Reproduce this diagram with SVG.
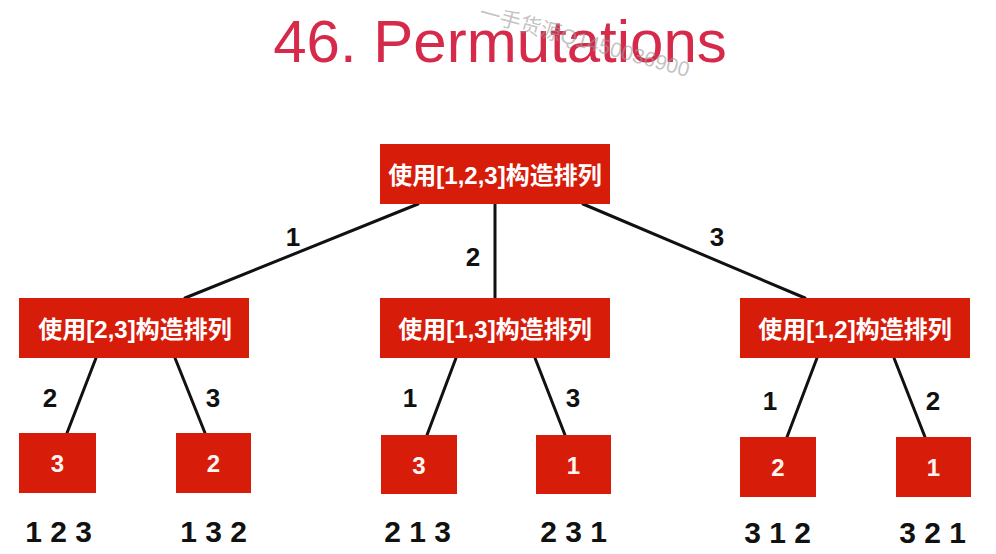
<svg xmlns="http://www.w3.org/2000/svg" width="996" height="554" viewBox="0 0 996 554">
<style>
.box{fill:#d81c0a;}
.bt{fill:#ffffff;font-family:"Liberation Sans","Noto Sans CJK SC",sans-serif;font-weight:bold;font-size:24px;text-anchor:middle;dominant-baseline:central;}
.lt{fill:#fff4f0;font-family:"Liberation Sans",sans-serif;font-weight:bold;font-size:24px;text-anchor:middle;dominant-baseline:central;}
.edge{stroke:#111;stroke-width:3;fill:none;stroke-linecap:round;}
.el{fill:#111;font-family:"Liberation Sans",sans-serif;font-weight:bold;font-size:26px;text-anchor:middle;dominant-baseline:central;}
.res{fill:#111;font-family:"Liberation Sans",sans-serif;font-weight:bold;font-size:30px;text-anchor:middle;}
</style>
<rect width="996" height="554" fill="#ffffff"/>
<text x="500" y="62" fill="#d52a4a" font-family="'Liberation Sans',sans-serif" font-size="60" text-anchor="middle">46. Permutations</text>
<text x="478" y="19" transform="rotate(15.5 478 19)" fill="#9a9a9a" fill-opacity="0.6" font-family="'Liberation Sans','Noto Sans CJK SC',sans-serif" font-size="21">一手货源Q1450036900</text>

<g id="connectors">
<line class="edge" x1="418" y1="204" x2="185" y2="298"/>
<line class="edge" x1="495" y1="204" x2="495" y2="298"/>
<line class="edge" x1="583" y1="204" x2="805" y2="298"/>
<line class="edge" x1="96" y1="358" x2="67" y2="433"/>
<line class="edge" x1="175" y1="358" x2="205" y2="433"/>
<line class="edge" x1="456" y1="358" x2="427" y2="435"/>
<line class="edge" x1="535" y1="358" x2="565" y2="435"/>
<line class="edge" x1="817" y1="358" x2="787" y2="437"/>
<line class="edge" x1="894" y1="358" x2="925" y2="437"/>
<text class="el" x="293" y="237">1</text>
<text class="el" x="473" y="257">2</text>
<text class="el" x="717" y="237">3</text>
<text class="el" x="50" y="398">2</text>
<text class="el" x="213" y="398">3</text>
<text class="el" x="410" y="398">1</text>
<text class="el" x="573" y="398">3</text>
<text class="el" x="770" y="401">1</text>
<text class="el" x="933" y="401">2</text>
</g>

<g id="root"><rect class="box" x="380" y="144" width="230" height="60"/><text class="bt" x="495" y="175">使用[1,2,3]构造排列</text></g>
<g id="n1"><rect class="box" x="19" y="298" width="230" height="60"/><text class="bt" x="135" y="329">使用[2,3]构造排列</text></g>
<g id="n2"><rect class="box" x="380" y="298" width="230" height="60"/><text class="bt" x="495" y="329">使用[1,3]构造排列</text></g>
<g id="n3"><rect class="box" x="740" y="298" width="230" height="60"/><text class="bt" x="855" y="329">使用[1,2]构造排列</text></g>

<g id="l1"><rect class="box" x="19" y="433" width="77" height="60"/><text class="lt" x="57.5" y="463">3</text></g>
<g id="l2"><rect class="box" x="176" y="433" width="75" height="60"/><text class="lt" x="213.5" y="463">2</text></g>
<g id="l3"><rect class="box" x="381" y="435" width="76" height="59"/><text class="lt" x="419" y="465">3</text></g>
<g id="l4"><rect class="box" x="536" y="435" width="75" height="59"/><text class="lt" x="573.5" y="465">1</text></g>
<g id="l5"><rect class="box" x="740" y="437" width="76" height="60"/><text class="lt" x="778" y="467">2</text></g>
<g id="l6"><rect class="box" x="896" y="437" width="75" height="60"/><text class="lt" x="933.5" y="467">1</text></g>

<g id="results">
<text class="res" x="58.5" y="542">1 2 3</text>
<text class="res" x="213.5" y="542">1 3 2</text>
<text class="res" x="417.5" y="542">2 1 3</text>
<text class="res" x="573.5" y="542">2 3 1</text>
<text class="res" x="777.5" y="543">3 1 2</text>
<text class="res" x="932.5" y="543">3 2 1</text>
</g>
</svg>
